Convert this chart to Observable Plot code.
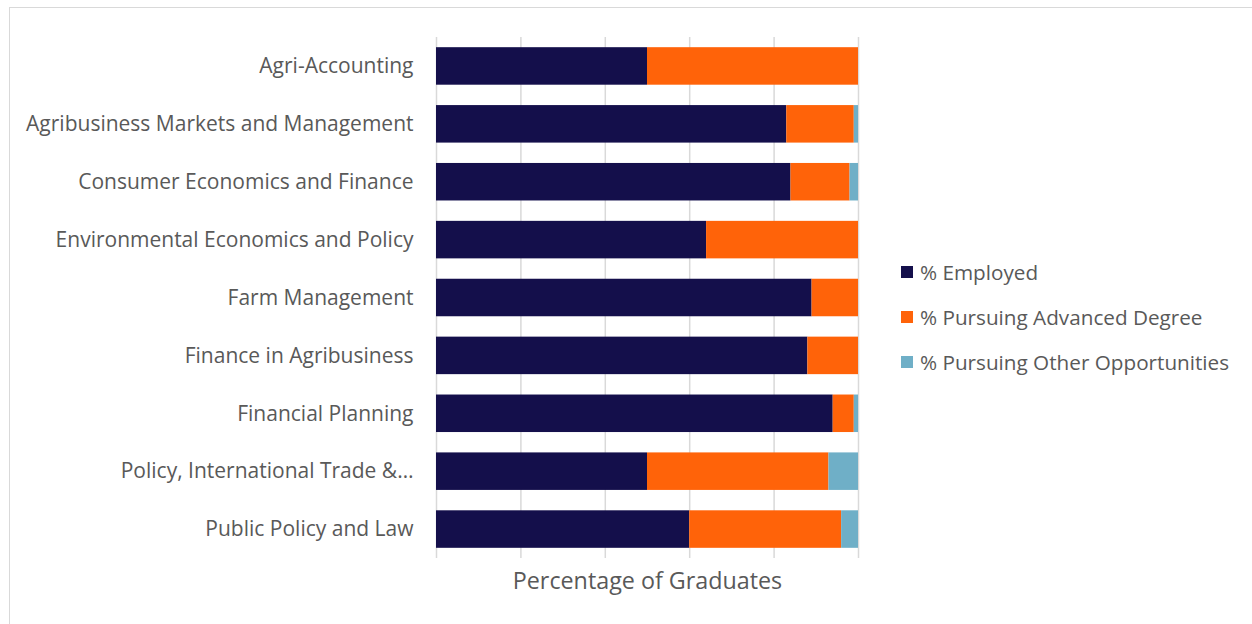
<!DOCTYPE html>
<html>
<head>
<meta charset="utf-8">
<script src="https://cdn.jsdelivr.net/npm/d3@7"></script>
<script src="https://cdn.jsdelivr.net/npm/@observablehq/plot@0.6"></script>
<style>
  html, body { margin: 0; padding: 0; background: #fff; }
  #wrap { position: relative; width: 1252px; height: 624px; overflow: hidden; font-family: "Open Sans", sans-serif; }
  #frame { position: absolute; left: 9px; top: 7px; width: 1260px; height: 640px; border: 1px solid #d9d9d9; box-sizing: border-box; pointer-events: none; }
  #legend { position: absolute; left: 901px; top: 249px; color: #595959; font-size: 20.7px; }
  .item { display: flex; align-items: center; height: 45px; }
  .sw { width: 12px; height: 12px; margin-right: 7px; }
</style>
</head>
<body>
<div id="wrap">
  <div id="chart"></div>
  <div id="legend"></div>
  <div id="frame"></div>
</div>
<script>
const categories = [
  "Agri-Accounting",
  "Agribusiness Markets and Management",
  "Consumer Economics and Finance",
  "Environmental Economics and Policy",
  "Farm Management",
  "Finance in Agribusiness",
  "Financial Planning",
  "Policy, International Trade &…",
  "Public Policy and Law"
];
const seriesNames = ["% Employed", "% Pursuing Advanced Degree", "% Pursuing Other Opportunities"];
const employed = [50, 83, 84, 64, 89, 88, 94, 50, 60];
const advanced = [50, 16, 14, 36, 11, 12, 5, 43, 36];
const other    = [0, 1, 2, 0, 0, 0, 1, 7, 4];
const colors = ["#140f4b", "#ff6309", "#6fafc7"];
const xTicks = [0, 20, 40, 60, 80, 100];
const xLabel = "Percentage of Graduates";

const seriesValues = [employed, advanced, other];
const data = [];
seriesNames.forEach((s, si) => {
  categories.forEach((c, ci) => {
    data.push({category: c, series: s, value: seriesValues[si][ci]});
  });
});

const chart = Plot.plot({
  width: 1252,
  height: 624,
  marginLeft: 436,
  marginRight: 394,
  marginTop: 37,
  marginBottom: 66,
  style: {fontFamily: "Open Sans, sans-serif", color: "#595959", background: "transparent"},
  x: {domain: [0, 100], ticks: xTicks, axis: null},
  y: {domain: categories, paddingInner: 0.352, paddingOuter: 0.176, round: false, label: null},
  color: {domain: seriesNames, range: colors},
  marks: [
    Plot.gridX(xTicks, {stroke: "#d9d9d9", strokeOpacity: 1, strokeWidth: 1.5}),
    Plot.barX(data, Plot.stackX({y: "category", x: "value", fill: "series", order: null})),
    Plot.axisY({tickSize: 0, tickPadding: 23, fontSize: 21, fill: "#595959", label: null}),
    Plot.text([xLabel], {frameAnchor: "bottom", dy: 30, fontSize: 23.3, fill: "#595959"})
  ]
});
document.getElementById("chart").appendChild(chart);

const legend = document.getElementById("legend");
seriesNames.forEach((s, i) => {
  const item = document.createElement("div");
  item.className = "item";
  const sw = document.createElement("div");
  sw.className = "sw";
  sw.style.background = colors[i];
  const t = document.createElement("span");
  t.textContent = s;
  item.appendChild(sw);
  item.appendChild(t);
  legend.appendChild(item);
});
</script>
</body>
</html>
